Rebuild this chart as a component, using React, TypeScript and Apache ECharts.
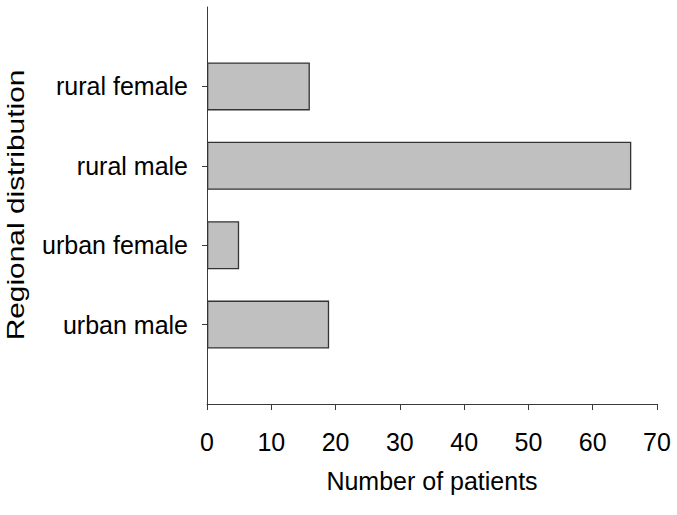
import React, { useEffect, useRef } from "react";
import * as echarts from "echarts";

const categories = ["urban male", "urban female", "rural male", "rural female"];
const patients = [19, 5, 66, 16];
const xTicks = { min: 0, max: 70, interval: 10 };
const xTitle = "Number of patients";
const yTitle = "Regional distribution";

export default function App() {
  const ref = useRef<HTMLDivElement>(null);
  useEffect(() => {
    if (!ref.current) return;
    const chart = echarts.init(ref.current, null, { renderer: "svg" });
    const paddedCats = ["", ...categories, ""];
    const paddedVals: (number | null)[] = [null, ...patients, null];
    const font = "Liberation Sans";
    chart.setOption({
      animation: false,
      backgroundColor: "#ffffff",
      grid: { left: 207, right: 20, top: 7, bottom: 111, containLabel: false },
      xAxis: {
        type: "value",
        min: xTicks.min,
        max: xTicks.max,
        interval: xTicks.interval,
        name: xTitle,
        nameLocation: "middle",
        nameGap: 64,
        nameTextStyle: { fontFamily: font, fontSize: 25, color: "#000" },
        axisLine: { show: true, lineStyle: { color: "#3a3a3a", width: 1 } },
        axisTick: { show: true, inside: false, length: 6, lineStyle: { color: "#3a3a3a" } },
        axisLabel: { fontFamily: font, fontSize: 25, color: "#000", margin: 25 },
        splitLine: { show: false },
      },
      yAxis: {
        type: "category",
        data: paddedCats,
        boundaryGap: false,
        axisLine: { show: true, lineStyle: { color: "#3a3a3a", width: 1 } },
        axisTick: {
          show: true,
          inside: false,
          length: 5,
          interval: (i: number) => i >= 1 && i <= categories.length,
          lineStyle: { color: "#3a3a3a" },
        },
        axisLabel: {
          interval: 0,
          fontFamily: font,
          fontSize: 25,
          color: "#000",
          margin: 19,
          padding: [6, 0, 0, 0],
        },
        splitLine: { show: false },
      },
      graphic: [
        {
          type: "text",
          x: 16,
          y: 205,
          rotation: Math.PI / 2,
          scaleX: 1.3,
          style: {
            text: yTitle,
            font: `23px "${font}"`,
            fill: "#000",
            align: "center",
            verticalAlign: "middle",
          },
        },
      ],
      series: [
        {
          type: "bar",
          data: paddedVals,
          barWidth: 48,
          itemStyle: { color: "#c0c0c0", borderColor: "#333333", borderWidth: 1.3 },
        },
      ],
    });
    return () => chart.dispose();
  }, []);
  return (
    <div
      ref={ref}
      style={{ position: "fixed", left: 0, top: 0, width: 677, height: 515 }}
    />
  );
}
